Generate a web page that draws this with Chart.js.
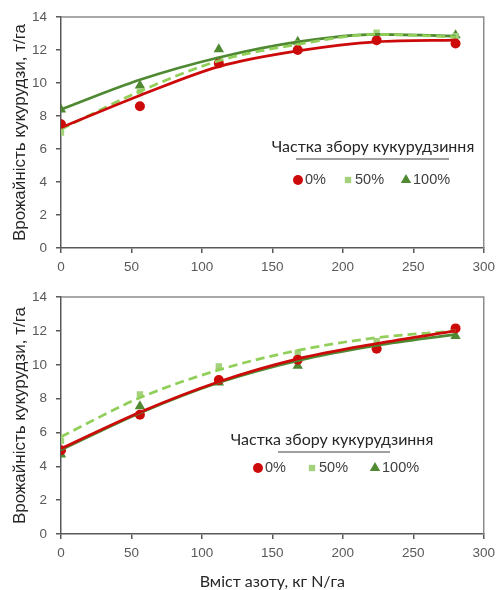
<!DOCTYPE html>
<html>
<head>
<meta charset="utf-8">
<script src="https://cdn.jsdelivr.net/npm/chart.js@4.4.1/dist/chart.umd.min.js"></script>
<style>
  html, body { margin: 0; padding: 0; background: #fff; }
  .panel { position: relative; width: 501px; }
</style>
</head>
<body>
<div class="panel" style="height:280px"><canvas id="topChart" width="501" height="280"></canvas></div>
<div class="panel" style="height:310px"><canvas id="bottomChart" width="501" height="310"></canvas></div>
<script>
// nitrogen rates, kg N/ha
const nitrogen = [0, 56, 112, 168, 224, 280];
const seriesNames = ['0%', '50%', '100%'];
const legendTitle = 'Частка збору кукурудзиння';
const yTitle = 'Врожайність кукурудзи, т/га';
const xTitle = 'Вміст азоту, кг N/га';

// top panel: observed yields and trend lines
const topObs0 = [7.5, 8.6, 11.2, 12.0, 12.6, 12.4];
const topObs50 = [7.0, 9.5, 11.4, 12.4, 13.05, 12.85];
const topObs100 = [8.4, 9.85, 12.05, 12.5, 12.7, 12.9];
const topFit0 = [7.3, 9.25, 11.0, 11.95, 12.5, 12.6];
const topFit50 = [7.2, 9.5, 11.35, 12.35, 12.95, 12.8];
const topFit100 = [8.4, 10.2, 11.55, 12.5, 12.95, 12.85];

// bottom panel
const botObs0 = [4.95, 7.05, 9.1, 10.3, 10.95, 12.15];
const botObs50 = [5.5, 8.25, 9.9, 10.7, 11.4, 12.2];
const botObs100 = [4.7, 7.55, 8.95, 9.95, 11.1, 11.7];
const botFit0 = [5.05, 7.2, 9.0, 10.35, 11.25, 12.0];
const botFit50 = [5.75, 8.05, 9.7, 10.85, 11.6, 12.0];
const botFit100 = [4.97, 7.15, 8.95, 10.25, 11.15, 11.8];

const RED = '#cc0a0a';
const LIGHT = '#a3d17c';
const LIGHT_LINE = '#92cf5a';
const GREEN = '#4f8a33';
const SANS = '"Liberation Sans", Arial, sans-serif';
const styles = [
  { color: RED, line: RED, pointStyle: 'circle', radius: 5, dash: [] },
  { color: LIGHT, line: LIGHT_LINE, pointStyle: 'rect', radius: 4.5, dash: [9, 5] },
  { color: GREEN, line: GREEN, pointStyle: 'triangle', radius: 6, dash: [] }
];

const toXY = vals => vals.map((v, i) => ({ x: nitrogen[i], y: v }));

function makeDatasets(obs, fits) {
  const out = [];
  fits.forEach((f, i) => out.push({
    label: seriesNames[i] + ' trend',
    data: toXY(f),
    showLine: true,
    borderColor: styles[i].line,
    borderWidth: 2.75,
    borderDash: styles[i].dash,
    pointRadius: 0,
    cubicInterpolationMode: 'monotone',
    order: 1
  }));
  obs.forEach((o, i) => out.push({
    label: seriesNames[i],
    data: toXY(o),
    showLine: false,
    backgroundColor: styles[i].color,
    borderColor: styles[i].color,
    borderWidth: 0,
    pointStyle: styles[i].pointStyle,
    pointRadius: styles[i].radius,
    order: 2
  }));
  return out;
}

// box around the plot area + legend drawn inside it
const panelDecor = {
  id: 'panelDecor',
  afterDraw(chart, args, opts) {
    const { ctx, chartArea: a } = chart;
    ctx.save();
    ctx.strokeStyle = '#8c8c8c';
    ctx.lineWidth = 1.5;
    ctx.beginPath();
    ctx.moveTo(a.left, a.top);
    ctx.lineTo(a.right, a.top);
    ctx.lineTo(a.right, a.bottom);
    ctx.stroke();

    ctx.fillStyle = '#262626';
    ctx.font = '16px Lato, "Open Sans", sans-serif';
    ctx.textAlign = 'center';
    ctx.textBaseline = 'middle';
    ctx.fillText(legendTitle, opts.titleX, opts.titleY);
    ctx.strokeStyle = '#404040';
    ctx.lineWidth = 1;
    ctx.beginPath();
    ctx.moveTo(opts.underline[0], opts.underline[2]);
    ctx.lineTo(opts.underline[1], opts.underline[2]);
    ctx.stroke();

    ctx.font = '14.5px ' + SANS;
    ctx.textAlign = 'left';
    seriesNames.forEach((name, i) => {
      const mx = opts.itemX[i];
      ctx.fillStyle = styles[i].color;
      Chart.helpers.drawPoint(ctx, {
        pointStyle: styles[i].pointStyle, radius: styles[i].radius,
        rotation: 0, borderWidth: 0
      }, mx, opts.itemY);
      ctx.fillStyle = '#404040';
      ctx.fillText(name, mx + 7, opts.itemY);
    });
    ctx.restore();
  }
};

function makeChart(id, obs, fits, opt) {
  return new Chart(document.getElementById(id), {
    type: 'scatter',
    data: { datasets: makeDatasets(obs, fits) },
    plugins: [panelDecor],
    options: {
      responsive: false,
      animation: false,
      layout: { padding: { top: opt.top, right: opt.right, left: 0, bottom: 0 } },
      plugins: {
        legend: { display: false },
        tooltip: { enabled: false },
        panelDecor: opt.legend
      },
      scales: {
        x: {
          type: 'linear', min: 0, max: 300,
          afterFit: s => { s.height = opt.xHeight; },
          border: { color: '#595959', width: 1.5 },
          grid: { drawOnChartArea: false, tickLength: 5, color: '#595959', lineWidth: 1.5 },
          ticks: { stepSize: 50, padding: 6, color: '#595959', font: { size: 13.5, family: SANS } },
          title: {
            display: opt.showXTitle, text: xTitle, color: '#262626',
            padding: { top: 0, bottom: -1 },
            font: { size: 16, family: 'Lato, "Open Sans", sans-serif' }
          }
        },
        y: {
          min: 0, max: 14,
          afterFit: s => { s.width = 61; },
          border: { color: '#595959', width: 1.5 },
          grid: { drawOnChartArea: false, tickLength: 5, color: '#595959', lineWidth: 1.5 },
          ticks: { stepSize: 2, padding: 9, color: '#595959', font: { size: 13.5, family: SANS } },
          title: {
            display: true, text: yTitle, color: '#262626',
            padding: { top: 10, bottom: 0 },
            font: { size: 17, family: SANS }
          }
        }
      }
    }
  });
}

makeChart('topChart', [topObs0, topObs50, topObs100], [topFit0, topFit50, topFit100], {
  top: 16, right: 12, xHeight: 32, showXTitle: false,
  legend: { titleX: 373, titleY: 147, underline: [296, 449, 159], itemY: 180, itemX: [298, 348, 406] }
});

makeChart('bottomChart', [botObs0, botObs50, botObs100], [botFit0, botFit50, botFit100], {
  top: 13, right: 10, xHeight: 56, showXTitle: true,
  legend: { titleX: 332, titleY: 160, underline: [278, 390, 172], itemY: 188, itemX: [258, 312, 375] }
});
</script>
</body>
</html>
